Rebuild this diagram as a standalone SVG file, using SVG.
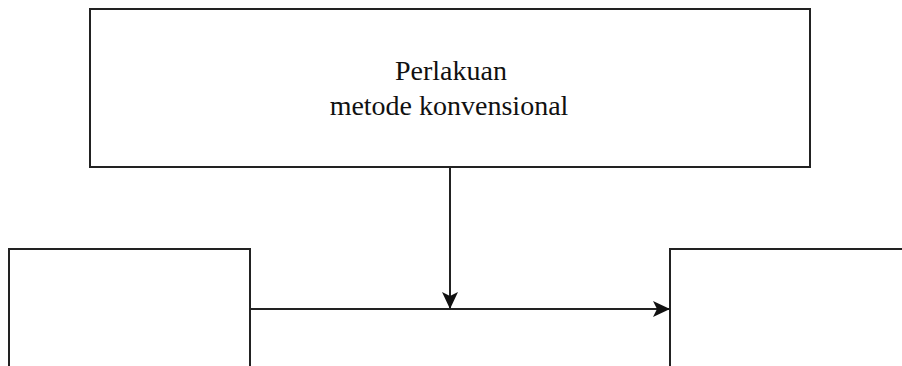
<svg xmlns="http://www.w3.org/2000/svg" width="902" height="366" viewBox="0 0 902 366">
<style>
.box{fill:#fff;stroke:#222;stroke-width:2}
.ln{fill:none;stroke:#222;stroke-width:2}
.t{font-family:"Liberation Serif","Times New Roman",serif;font-size:28px;fill:#111;text-anchor:middle}
</style>
<defs>
<marker id="ah" markerWidth="17" markerHeight="16" refX="16" refY="8" orient="auto" markerUnits="userSpaceOnUse">
<path d="M0,0 L17,8 L0,16 L4,8 Z" fill="#111"/>
</marker>
</defs>
<rect width="902" height="366" fill="#fff"/>
<g id="treatment">
<rect class="box" x="90" y="9" width="720" height="158"/>
<text class="t" x="451" y="80">Perlakuan</text>
<text class="t" x="449" y="115">metode konvensional</text>
</g>
<g id="left">
<rect class="box" x="9" y="249" width="241" height="130"/>
</g>
<g id="right">
<rect class="box" x="670" y="249" width="250" height="130"/>
</g>
<g id="connectors">
<line class="ln" x1="450" y1="167" x2="450" y2="308" marker-end="url(#ah)"/>
<line class="ln" x1="250" y1="309" x2="669" y2="309" marker-end="url(#ah)"/>
</g>
</svg>
